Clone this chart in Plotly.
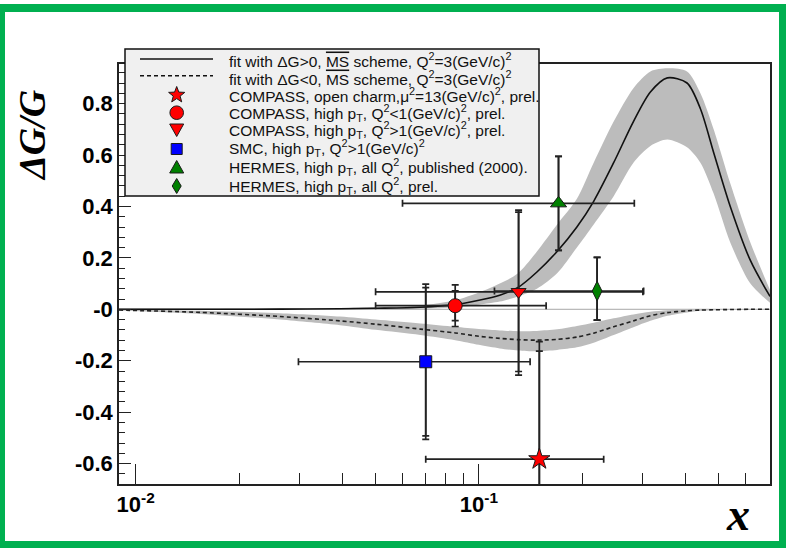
import math
import plotly.graph_objects as go

# ---------------- data ----------------
curve_x = [0.00894, 0.0154, 0.0263, 0.0394, 0.05, 0.0675, 0.0853, 0.1, 0.115, 0.13,
           0.1476, 0.169, 0.193, 0.216, 0.247, 0.282, 0.316, 0.354, 0.404, 0.442,
           0.483, 0.54, 0.618, 0.705]
# fit with dG>0 : central, upper and lower edge of the band
pos_fit = [0.0, 0.0, 0.0005, 0.002, 0.004, 0.008, 0.018, 0.035, 0.055, 0.085,
           0.145, 0.225, 0.32, 0.42, 0.57, 0.73, 0.845, 0.90, 0.88, 0.78,
           0.61, 0.40, 0.19, 0.05]
pos_hi = [0.003, 0.003, 0.004, 0.005, 0.008, 0.015, 0.035, 0.065, 0.10, 0.14,
          0.225, 0.33, 0.43, 0.57, 0.73, 0.86, 0.925, 0.937, 0.925, 0.84,
          0.70, 0.49, 0.26, 0.075]
pos_lo = [-0.003, -0.003, -0.003, -0.002, -0.001, 0.002, 0.008, 0.018, 0.03, 0.05,
          0.08, 0.14, 0.24, 0.33, 0.44, 0.57, 0.635, 0.66, 0.63, 0.57,
          0.45, 0.26, 0.10, 0.025]
# fit with dG<0
neg_fit = [-0.003, -0.012, -0.028, -0.045, -0.058, -0.077, -0.092, -0.105, -0.113, -0.118,
           -0.12, -0.117, -0.108, -0.093, -0.068, -0.045, -0.025, -0.013, -0.006, -0.003,
           -0.002, -0.001, 0.0, 0.0]
neg_hi = [-0.001, -0.006, -0.015, -0.028, -0.04, -0.055, -0.068, -0.077, -0.082, -0.085,
          -0.084, -0.078, -0.065, -0.052, -0.035, -0.02, -0.01, -0.004, -0.002, -0.001,
          0.0, 0.0, 0.0, 0.0]
neg_lo = [-0.005, -0.018, -0.04, -0.062, -0.08, -0.10, -0.12, -0.138, -0.152, -0.16,
          -0.163, -0.158, -0.148, -0.13, -0.10, -0.07, -0.045, -0.025, -0.012, -0.006,
          -0.004, -0.002, -0.001, 0.0]

# measurements: COMPASS charm, COMPASS Q2<1, COMPASS Q2>1, SMC, HERMES 2000, HERMES prel
pt_x = [0.150, 0.0853, 0.1305, 0.070, 0.1706, 0.221]
pt_y = [-0.583, 0.014, 0.068, -0.204, 0.412, 0.071]
pt_xerr_minus = [0.080, 0.0353, 0.0805, 0.0402, 0.1107, 0.110]
pt_xerr_plus = [0.081, 0.0717, 0.170, 0.071, 0.1131, 0.081]
pt_yerr_stat_plus = [0.42, 0.058, 0.31, 0.288, 0.183, 0.131]
pt_yerr_stat_minus = [0.42, 0.058, 0.31, 0.288, 0.183, 0.113]
pt_yerr_tot_plus = [0.457, 0.081, 0.318, 0.302, 0.183, 0.131]
pt_yerr_tot_minus = [0.457, 0.081, 0.324, 0.302, 0.183, 0.113]

legend_labels = [
    "fit with \u0394G&gt;0, <span style='text-decoration:overline'>MS</span> scheme, Q<sup>2</sup>=3(GeV/c)<sup>2</sup>",
    "fit with \u0394G&lt;0, <span style='text-decoration:overline'>MS</span> scheme, Q<sup>2</sup>=3(GeV/c)<sup>2</sup>",
    "COMPASS, open charm,\u03bc<sup>2</sup>=13(GeV/c)<sup>2</sup>, prel.",
    "COMPASS, high p<sub>T</sub>, Q<sup>2</sup>&lt;1(GeV/c)<sup>2</sup>, prel.",
    "COMPASS, high p<sub>T</sub>, Q<sup>2</sup>&gt;1(GeV/c)<sup>2</sup>, prel.",
    "SMC, high p<sub>T</sub>, Q<sup>2</sup>&gt;1(GeV/c)<sup>2</sup>",
    "HERMES, high p<sub>T</sub>, all Q<sup>2</sup>, published (2000).",
    "HERMES, high p<sub>T</sub>, all Q<sup>2</sup>, prel.",
]

x_tickvals = [0.01, 0.1]
x_ticktext = ["10<sup>-2</sup>", "10<sup>-1</sup>"]
x_minor = [0.02, 0.03, 0.04, 0.05, 0.06, 0.07, 0.08, 0.09, 0.2, 0.3, 0.4, 0.5, 0.6]
y_tickvals = [-0.6, -0.4, -0.2, 0.0, 0.2, 0.4, 0.6, 0.8]
y_ticktext = ["-0.6", "-0.4", "-0.2", "-0", "0.2", "0.4", "0.6", "0.8"]

# ---------------- styles / layout ----------------
W, H = 786, 548
ML, MR, MT, MB = 119, 16, 64, 64
PW, PH = W - ML - MR, H - MT - MB
BAND = "#bcbcbc"
RED, BLUE, GREEN = "#ff0000", "#0000ff", "#008000"
pt_symbols = ["star", "circle", "triangle-down", "square", "triangle-up", "diamond-tall"]
pt_colors = [RED, RED, RED, BLUE, GREEN, GREEN]
pt_sizes = [16, 14, 13, 12, 14, 14]


def px2x(px):
    return (px - ML) / PW


def py2y(py):
    return (MT + PH - py) / PH


fig = go.Figure()

# bands
for lo, hi in ((pos_lo, pos_hi), (neg_lo, neg_hi)):
    fig.add_trace(go.Scatter(x=curve_x, y=lo, mode="lines", line=dict(width=0, shape="spline", smoothing=0.8),
                             hoverinfo="skip", showlegend=False))
    fig.add_trace(go.Scatter(x=curve_x, y=hi, mode="lines", fill="tonexty", fillcolor=BAND,
                             line=dict(width=0, shape="spline", smoothing=0.8), hoverinfo="skip", showlegend=False))

# fits
fig.add_trace(go.Scatter(x=curve_x, y=pos_fit, mode="lines",
                         line=dict(color="#111111", width=1.6, shape="spline", smoothing=0.8), showlegend=False))
fig.add_trace(go.Scatter(x=curve_x, y=neg_fit, mode="lines",
                         line=dict(color="#222222", width=1.6, dash="4px,3px", shape="spline", smoothing=0.8),
                         showlegend=False))

ebar = dict(color="#222222", thickness=1.7, width=3.5)
# total errors (outer caps)
fig.add_trace(go.Scatter(x=pt_x, y=pt_y, mode="markers", marker=dict(size=1, opacity=0),
                         error_y=dict(type="data", symmetric=False, array=pt_yerr_tot_plus,
                                      arrayminus=pt_yerr_tot_minus, **ebar),
                         showlegend=False, hoverinfo="skip"))
# points with stat errors
fig.add_trace(go.Scatter(x=pt_x, y=pt_y, mode="markers",
                         marker=dict(symbol=pt_symbols, color=pt_colors, size=pt_sizes, opacity=1,
                                     line=dict(color="#1a1a1a", width=1)),
                         error_x=dict(type="data", symmetric=False, array=pt_xerr_plus,
                                      arrayminus=pt_xerr_minus, **ebar),
                         error_y=dict(type="data", symmetric=False, array=pt_yerr_stat_plus,
                                      arrayminus=pt_yerr_stat_minus, **ebar),
                         showlegend=False))

shapes = []
# zero line
shapes.append(dict(type="line", xref="paper", yref="y", x0=0, x1=1, y0=0, y1=0,
                   line=dict(color="#a8a8a8", width=1), layer="below"))

# legend box
shapes.append(dict(type="rect", xref="paper", yref="paper", x0=px2x(125), x1=px2x(539),
                   y0=py2y(196), y1=py2y(49), fillcolor="#f0f0f0",
                   line=dict(color="#111111", width=1.5), layer="above"))
LX0, LX1, LXC, TX = 140, 213, 176.7, 226.7
row_sym_y = [59, 75.7, 95, 112.7, 129.5, 149, 167.5, 186]
row_txt_y = [60, 77.5, 95.5, 113, 129.5, 148, 166.5, 185.5]
shapes.append(dict(type="line", xref="paper", yref="paper", x0=px2x(LX0), x1=px2x(LX1),
                   y0=py2y(row_sym_y[0]), y1=py2y(row_sym_y[0]), line=dict(color="#111111", width=1.6),
                   layer="above"))
shapes.append(dict(type="line", xref="paper", yref="paper", x0=px2x(LX0), x1=px2x(LX1),
                   y0=py2y(row_sym_y[1]), y1=py2y(row_sym_y[1]),
                   line=dict(color="#111111", width=1.6, dash="4px,3px"), layer="above"))


def poly(pts, color):
    d = "M " + " L ".join(f"{px2x(a):.5f},{py2y(b):.5f}" for a, b in pts) + " Z"
    return dict(type="path", xref="paper", yref="paper", path=d, fillcolor=color,
                line=dict(color="#1a1a1a", width=1), layer="above")


cy = row_sym_y[2]
star = []
for i in range(10):
    ang = -math.pi / 2 + i * math.pi / 5
    rad = 8.5 if i % 2 == 0 else 3.6
    star.append((LXC + rad * math.cos(ang), cy + rad * math.sin(ang)))
shapes.append(poly(star, RED))
cy = row_sym_y[3]
shapes.append(dict(type="circle", xref="paper", yref="paper", x0=px2x(LXC - 6.8), x1=px2x(LXC + 6.8),
                   y0=py2y(cy + 6.8), y1=py2y(cy - 6.8), fillcolor=RED,
                   line=dict(color="#1a1a1a", width=1), layer="above"))
cy = row_sym_y[4]
shapes.append(poly([(LXC - 7, cy - 5.5), (LXC + 7, cy - 5.5), (LXC, cy + 7)], RED))
cy = row_sym_y[5]
shapes.append(poly([(LXC - 5.5, cy - 5.5), (LXC + 5.5, cy - 5.5), (LXC + 5.5, cy + 5.5), (LXC - 5.5, cy + 5.5)], BLUE))
cy = row_sym_y[6]
shapes.append(poly([(LXC - 7, cy + 5.5), (LXC + 7, cy + 5.5), (LXC, cy - 7)], GREEN))
cy = row_sym_y[7]
shapes.append(poly([(LXC, cy - 7.5), (LXC + 4.5, cy), (LXC, cy + 7.5), (LXC - 4.5, cy)], GREEN))

# green outer border
GRN = "#00b050"
for (a, b, c, d) in [(0, 786, 4, 12), (0, 5, 4, 548), (779, 786, 4, 548), (0, 786, 541, 548)]:
    shapes.append(dict(type="rect", xref="paper", yref="paper", x0=px2x(a), x1=px2x(b),
                       y0=py2y(d), y1=py2y(c), fillcolor=GRN, line=dict(width=0), layer="above"))

annotations = []
for txt, yy in zip(legend_labels, row_txt_y):
    annotations.append(dict(text=txt, xref="paper", yref="paper", x=px2x(TX), y=py2y(yy),
                            xanchor="left", yanchor="middle", showarrow=False,
                            font=dict(family="Liberation Sans, Arial", size=15.5, color="#111111")))
annotations.append(dict(text="<b><i>\u0394G/G</i></b>", xref="paper", yref="paper", x=px2x(32), y=py2y(135),
                        xanchor="center", yanchor="middle", textangle=-90, showarrow=False,
                        font=dict(family="Liberation Serif, Times New Roman", size=38, color="black")))
annotations.append(dict(text="<b><i>x</i></b>", xref="paper", yref="paper", x=px2x(738), y=py2y(514),
                        xanchor="center", yanchor="middle", showarrow=False,
                        font=dict(family="Liberation Serif, Times New Roman", size=46, color="black")))

fig.update_layout(
    width=W, height=H, margin=dict(l=ML, r=MR, t=MT, b=MB),
    paper_bgcolor="white", plot_bgcolor="white", showlegend=False,
    shapes=shapes, annotations=annotations,
    xaxis=dict(type="log", range=[math.log10(0.00894), math.log10(0.705)],
               tickmode="array", tickvals=x_tickvals, ticktext=x_ticktext,
               ticks="inside", ticklen=20, tickwidth=1.3, tickcolor="#222222",
               minor=dict(tickmode="array", tickvals=x_minor, ticks="inside", ticklen=11,
                          tickwidth=1.3, tickcolor="#222222", showgrid=False),
               showgrid=False, zeroline=False, showline=True, mirror=True,
               linecolor="#222222", linewidth=1.6,
               tickfont=dict(family="Liberation Sans, Arial", size=22, color="black", weight="bold")),
    yaxis=dict(range=[-0.6794, 0.9539], tickmode="array", tickvals=y_tickvals, ticktext=y_ticktext,
               ticks="inside", ticklen=12, tickwidth=1.3, tickcolor="#222222",
               minor=dict(dtick=0.04, tick0=0, ticks="inside", ticklen=6, tickwidth=1.3,
                          tickcolor="#222222", showgrid=False),
               showgrid=False, zeroline=False, showline=True, mirror=True,
               linecolor="#222222", linewidth=1.6,
               tickfont=dict(family="Liberation Sans, Arial", size=22, color="black", weight="bold")),
)

fig.write_html("out.html", config={"displayModeBar": False},
               post_script="document.body.style.margin='0px';document.body.style.overflow='hidden';")
